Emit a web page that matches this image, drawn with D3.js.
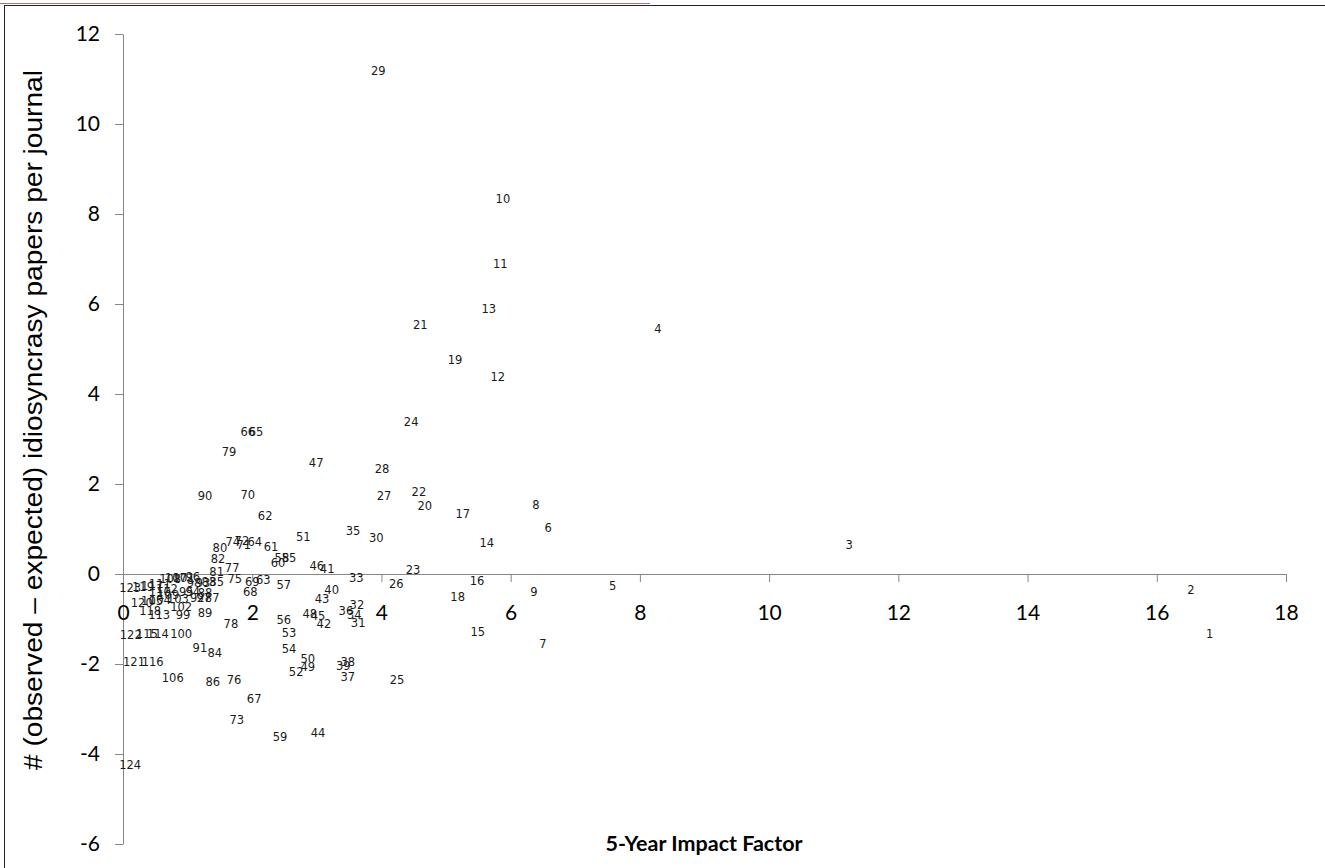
<!DOCTYPE html>
<html>
<head>
<meta charset="utf-8">
<script src="https://cdn.jsdelivr.net/npm/d3@7"></script>
<style>
  body { margin: 0; background: #fff; }
  svg { display: block; }
</style>
</head>
<body>
<svg width="1325" height="868"></svg>
<script>
// journal number, 5-year impact factor, observed - expected
const ids = [
  1, 2, 3, 4, 5, 6, 7, 8, 9, 10, 11, 12, 13, 14, 15, 16, 17, 18, 19, 20,
  21, 22, 23, 24, 25, 26, 27, 28, 29, 30, 31, 32, 33, 34, 35, 36, 37, 38, 39, 40,
  41, 42, 43, 44, 45, 46, 47, 48, 49, 50, 51, 52, 53, 54, 55, 56, 57, 58, 59, 60,
  61, 62, 63, 64, 65, 66, 67, 68, 69, 70, 71, 72, 73, 74, 75, 76, 77, 78, 79, 80,
  81, 82, 83, 84, 85, 86, 87, 88, 89, 90, 91, 92, 93, 94, 95, 96, 97, 98, 99, 100,
  101, 102, 103, 104, 105, 106, 107, 108, 109, 110, 111, 112, 113, 114, 115, 116, 117, 118, 119, 120,
  121, 122, 123, 124
];
const impact = [
  16.82, 16.53, 11.24, 8.28, 7.58, 6.58, 6.50, 6.39, 6.36, 5.88, 5.84, 5.80, 5.66, 5.63, 5.49, 5.48, 5.26, 5.18, 5.14, 4.67,
  4.60, 4.58, 4.49, 4.46, 4.24, 4.23, 4.04, 4.01, 3.95, 3.92, 3.64, 3.62, 3.61, 3.58, 3.56, 3.45, 3.48, 3.48, 3.41, 3.23,
  3.16, 3.11, 3.08, 3.02, 3.02, 3.00, 2.99, 2.89, 2.86, 2.86, 2.79, 2.68, 2.57, 2.57, 2.57, 2.49, 2.49, 2.46, 2.43, 2.40,
  2.29, 2.20, 2.17, 2.04, 2.06, 1.93, 2.03, 1.97, 2.00, 1.93, 1.87, 1.84, 1.76, 1.70, 1.73, 1.72, 1.69, 1.67, 1.64, 1.50,
  1.45, 1.47, 1.33, 1.42, 1.45, 1.39, 1.38, 1.27, 1.27, 1.27, 1.19, 1.15, 1.24, 1.08, 0.98, 1.08, 1.25, 1.10, 0.93, 0.90,
  0.94, 0.90, 0.85, 0.57, 0.45, 0.77, 0.82, 0.73, 0.70, 0.57, 0.57, 0.68, 0.56, 0.54, 0.37, 0.46, 0.45, 0.42, 0.31, 0.29,
  0.17, 0.12, 0.11, 0.11
];
const excess = [
  -1.33, -0.36, 0.64, 5.44, -0.27, 1.02, -1.56, 1.53, -0.40, 8.33, 6.89, 4.38, 5.89, 0.69, -1.29, -0.16, 1.33, -0.51, 4.76, 1.51,
  5.53, 1.82, 0.09, 3.38, -2.36, -0.22, 1.73, 2.33, 11.18, 0.80, -1.09, -0.69, -0.09, -0.91, 0.96, -0.82, -2.29, -1.96, -2.04, -0.36,
  0.11, -1.11, -0.56, -3.53, -0.93, 0.18, 2.47, -0.89, -2.07, -1.89, 0.82, -2.18, -1.31, -1.67, 0.36, -1.02, -0.24, 0.36, -3.62, 0.24,
  0.60, 1.29, -0.13, 0.71, 3.16, 3.16, -2.78, -0.40, -0.18, 1.76, 0.64, 0.73, -3.24, 0.71, -0.11, -2.36, 0.13, -1.11, 2.71, 0.58,
  0.04, 0.33, -0.18, -1.76, -0.18, -2.40, -0.53, -0.42, -0.87, 1.73, -1.64, -0.53, -0.20, -0.40, -0.40, -0.07, -0.53, -0.20, -0.91, -1.33,
  -0.09, -0.73, -0.56, -0.58, -0.60, -2.31, -0.09, -0.11, -0.47, -0.40, -0.22, -0.33, -0.91, -1.33, -1.33, -1.96, -0.27, -0.82, -0.29, -0.64,
  -1.96, -1.36, -0.31, -4.24
];
const xTicks = [0, 2, 4, 6, 8, 10, 12, 14, 16, 18];
const yTicks = [-6, -4, -2, 0, 2, 4, 6, 8, 10, 12];
const xTitle = '5-Year Impact Factor';
const yTitle = '# (observed \u2013 expected) idiosyncrasy papers per journal';

const svg = d3.select('svg');
const axisColor = '#868686';
const tickFont = 'Lato, "Open Sans", sans-serif';

// outer frame
svg.append('line')
  .attr('x1', 0).attr('x2', 650).attr('y1', 3.5).attr('y2', 3.5)
  .attr('stroke', '#b07070').attr('stroke-width', 1.2);
svg.append('rect')
  .attr('x', 4.5).attr('y', 5.5).attr('width', 1330).attr('height', 880)
  .attr('fill', 'none').attr('stroke', '#222').attr('stroke-width', 1);

const x = d3.scaleLinear().domain([0, 18]).range([123, 1286]);
const y = d3.scaleLinear().domain([-6, 12]).range([844, 34]);
const fmt = d => String(d); // plain hyphen minus, like the original

// y axis
const gy = svg.append('g')
  .attr('transform', `translate(${x(0)},0)`)
  .call(d3.axisLeft(y).tickValues(yTicks).tickFormat(fmt)
    .tickSize(8).tickSizeOuter(0).tickPadding(15));
gy.select('.domain').attr('stroke', axisColor);
gy.selectAll('.tick line').attr('stroke', axisColor);
gy.selectAll('.tick text')
  .attr('font-family', tickFont)
  .attr('font-size', 21).attr('fill', '#000');

// x axis, crossing at y = 0
const gx = svg.append('g')
  .attr('transform', `translate(0,${y(0)})`)
  .call(d3.axisBottom(x).tickValues(xTicks).tickFormat(fmt)
    .tickSize(8).tickSizeOuter(0));
gx.select('.domain').attr('stroke', axisColor);
gx.selectAll('.tick line').attr('stroke', axisColor);
gx.selectAll('.tick text')
  .attr('y', 39).attr('dy', '0.35em')
  .attr('font-family', tickFont)
  .attr('font-size', 21).attr('fill', '#000');

// point labels (no markers, just the journal number)
const pts = ids.map((id, i) => ({ id, fx: impact[i], fy: excess[i] }));
svg.append('g')
  .selectAll('text')
  .data(pts)
  .join('text')
  .attr('x', d => x(d.fx))
  .attr('y', d => y(d.fy))
  .attr('dy', '0.35em')
  .attr('text-anchor', 'middle')
  .attr('font-family', '"DejaVu Sans", sans-serif')
  .attr('font-size', 11.5)
  .attr('fill', '#1a1a1a')
  .text(d => d.id);

// titles
svg.append('text')
  .attr('x', 704).attr('y', 843).attr('dy', '0.35em')
  .attr('text-anchor', 'middle')
  .attr('font-family', tickFont)
  .attr('font-weight', 'bold').attr('font-size', 21.5)
  .text(xTitle);

svg.append('text')
  .attr('transform', 'translate(33,420) rotate(-90)')
  .attr('dy', '0.35em')
  .attr('text-anchor', 'middle')
  .attr('font-family', '"Liberation Sans", Arial, sans-serif')
  .attr('font-size', 25)
  .attr('textLength', 700)
  .attr('lengthAdjust', 'spacingAndGlyphs')
  .text(yTitle);
</script>
</body>
</html>
